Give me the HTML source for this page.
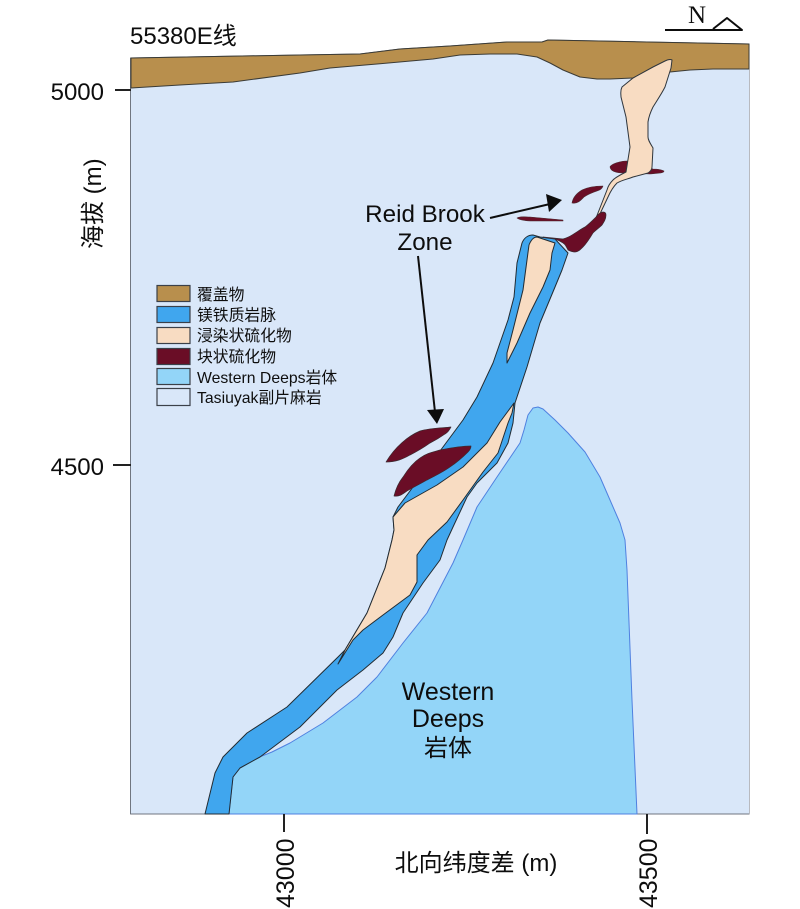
<!DOCTYPE html>
<html lang="zh">
<head>
<meta charset="utf-8">
<title>55380E</title>
<style>
html,body{margin:0;padding:0;background:#fff;width:800px;height:909px;overflow:hidden}
svg{display:block}
text{font-family:"Liberation Sans","Noto Sans CJK SC",sans-serif;fill:#111}
path{stroke-linejoin:round}
</style>
</head>
<body>
<svg width="800" height="909" viewBox="0 0 800 909" xmlns="http://www.w3.org/2000/svg">
<defs><filter id="b" x="0" y="0" width="100%" height="100%"><feGaussianBlur stdDeviation="0.3"/></filter></defs>
<g filter="url(#b)">
<!-- plot background -->
<path d="M130.500,58 L300,55 L360,54 L400,49 L450,46 L507,42 L542,42 L548,40 L749.500,44 L749.500,814 L130.500,814 Z" fill="#d9e7f9" stroke="#6f7680" stroke-width="1"/>
<!-- overburden -->
<path d="M131,58 L300,55 L360,54 L400,49 L450,46 L507,42 L542,42 L548,40 L749,44 L749,69 L713,69 L690,70 L670,72 L650,75 L633,78 L610,79 L597,79 L580,77 L563,70 L550,63 L537,57 L517,54 L490,54 L460,55 L433,59 L377,64 L330,68 L300,73 L233,82 L180,85 L131,88 Z" fill="#b88f4d" stroke="#3a3a36" stroke-width="1"/>
<!-- Western Deeps -->
<path d="M533,408 L538,407 L543,409 L555,420 L568,433 L585,452 L600,477 L610,500 L620,523 L625,540 L627,570 L632,700 L637,814 L229,814 L233,777 L240,768 L257,758 L272,752 L290,743 L323,723 L357,697 L377,677 L403,643 L427,613 L453,563 L463,540 L477,507 L497,477 L520,443 L524,430 L528,415 Z" fill="#93d5f8" stroke="#4f80e0" stroke-width="1"/>
<!-- mafic dyke -->
<path d="M522,243 C524,238 528,235 533,235 L540,237 L555,239 L568,253 L562,270 L555,287 L540,323 L527,367 L515,403 L513,423 L508,443 L497,463 L477,483 L467,497 L453,527 L447,540 L440,560 L423,583 L403,613 L393,637 L383,653 L363,670 L337,690 L300,727 L260,757 L240,768 L233,777 L229,814 L205,814 L215,773 L223,757 L230,750 L247,733 L287,707 L338,657 L345,650 L367,613 L385,568 L392,540 L394,530 L393,517 L398,507 L413,487 L443,447 L463,420 L477,397 L493,363 L508,320 L514,297 L517,263 Z" fill="#41a6ee" stroke="#222c32" stroke-width="1"/>
<!-- upper disseminated inside dyke -->
<path d="M529,245 C531,240 534,237 537,237 L555,243 L552,253 L550,270 L543,287 L530,313 L517,343 L507,363 L507,353 L513,330 L523,290 L527,260 Z" fill="#f8dcc2" stroke="#222c32" stroke-width="1"/>
<!-- lower disseminated -->
<path d="M514,403 L512,413 L508,423 L498,453 L483,472 L463,500 L447,522 L428,540 L417,555 L417,582 L410,595 L383,615 L363,630 L353,640 L338,664 L345,650 L367,613 L385,568 L392,540 L394,530 L393,517 L405,503 L437,485 L463,467 L487,443 L500,422 Z" fill="#f8dcc2" stroke="#222c32" stroke-width="1"/>
<!-- massive sulphide behind vein -->
<path d="M610,167 C611,164 620,161 627,161 L653,169 C658,169 662,170 664,171 C664,173 660,173 650,174 L627,173 C620,173 611,173 610,167 Z" fill="#6b1026" stroke="#4a2a30" stroke-width="0.600"/>
<!-- upper disseminated vein -->
<path d="M598,218 L608,197 C612,188 615,185 617,183 C622,180 628,179 633,177 L648,173 C651,171 652,169 652,167 L653,148 C650,143 648,140 648,137 L648,122 C649,115 651,111 653,107 C658,99 662,93 665,87 L671,68 L672,60 C670,59 667,60 665,61 L653,67 L633,78 L622,87 C620,91 621,94 621,97 L626,117 L630,147 L626,172 C620,175 616,177 613,180 C610,183 608,186 607,190 L596,218 Z" fill="#f8dcc2" stroke="#2f363c" stroke-width="1"/>
<path d="M572,203 C573,197 577,193 582,190 C588,187 597,186 603,186 C602,189 600,190 597,191 C591,193 587,195 584,197 C581,200 578,204 572,203 Z" fill="#6b1026" stroke="#4a2a30" stroke-width="0.600"/>
<path d="M517,218 C520,216 525,217 530,217 L563,220 L563,221 L533,221 C527,221 520,220 517,218 Z" fill="#6b1026" stroke="#4a2a30" stroke-width="0.600"/>
<path d="M596,217 C598,214 601,212 603,212 C606,212 606,214 606,215 C606,219 604,222 602,225 C599,228 596,230 593,233 C590,238 587,243 583,247 C580,250 578,252 575,252 C572,252 570,251 568,250 C566,246 565,244 563,243 C560,241 558,240 555,239 C551,238 547,238 543,237 L563,239 C566,238 569,237 572,235 C577,232 581,229 585,227 C589,224 593,220 596,217 Z" fill="#6b1026" stroke="#3a2a30" stroke-width="0.700"/>
<!-- lenses -->
<path d="M386,462 C395,447 408,436 420,431 C430,428 442,428 451,427 C449,431 447,433 445,434 C438,439 434,441 430,443 C423,448 416,452 410,455 C403,459 396,462 386,462 Z" fill="#6b1026" stroke="#3a2a30" stroke-width="0.700"/>
<path d="M394,496 C396,488 399,482 403,477 C408,469 414,462 420,458 C427,453 433,452 440,450 C450,448 462,446 471,446 C471,449 469,451 468,452 C462,458 456,463 450,467 C443,472 435,476 427,480 C420,484 414,487 407,491 C403,494 399,497 394,496 Z" fill="#6b1026" stroke="#3a2a30" stroke-width="0.700"/>
<!-- arrows -->
<line x1="490" y1="218" x2="550" y2="204" stroke="#111" stroke-width="2"/>
<path d="M546,194 L562,200 L549,212 Z" fill="#111"/>
<line x1="418" y1="256" x2="435" y2="412" stroke="#111" stroke-width="2"/>
<path d="M427,410 L444,409 L437,424 Z" fill="#111"/>
<!-- ticks -->
<g stroke="#222" stroke-width="2">
<line x1="115" y1="90" x2="131" y2="90"/>
<line x1="113" y1="465" x2="131" y2="465"/>
<line x1="284" y1="814" x2="284" y2="832"/>
<line x1="647" y1="814" x2="647" y2="834"/>
</g>
<!-- north -->
<text x="688" y="23" style="font-family:'Liberation Serif',serif;font-size:25px;fill:#111">N</text>
<path d="M665,30 L742,30 L727,18 L713,29" fill="none" stroke="#111" stroke-width="2"/>
<!-- labels -->
<text x="130" y="44" font-size="24">55380E线</text>
<text x="104" y="100" font-size="24" text-anchor="end">5000</text>
<text x="104" y="475" font-size="24" text-anchor="end">4500</text>
<text transform="translate(101,249) rotate(-90)" font-size="24">海拔 (m)</text>
<text x="476" y="871" font-size="24" text-anchor="middle">北向纬度差 (m)</text>
<text transform="translate(294,908) rotate(-90)" font-size="25">43000</text>
<text transform="translate(657,908) rotate(-90)" font-size="25">43500</text>
<text x="425" y="222" font-size="24.200" text-anchor="middle">Reid Brook</text>
<text x="425" y="250" font-size="24.200" text-anchor="middle">Zone</text>
<text x="448" y="700" font-size="25" text-anchor="middle">Western</text>
<text x="448" y="727" font-size="25" text-anchor="middle">Deeps</text>
<text x="448" y="756" font-size="24" text-anchor="middle">岩体</text>
<!-- legend -->
<g stroke="#3a4048" stroke-width="1.200">
<rect x="157" y="285.500" width="33" height="16" fill="#b88f4d"/>
<rect x="157" y="306.500" width="33" height="16" fill="#41a6ee"/>
<rect x="157" y="327.500" width="33" height="16" fill="#f8dcc2"/>
<rect x="157" y="348.500" width="33" height="16" fill="#6b1026"/>
<rect x="157" y="368.500" width="33" height="16" fill="#93d5f8"/>
<rect x="157" y="388.500" width="33" height="17" fill="#d9e7f9"/>
</g>
<g font-size="15.800">
<text x="197" y="300">覆盖物</text>
<text x="197" y="320.500">镁铁质岩脉</text>
<text x="197" y="341">浸染状硫化物</text>
<text x="197" y="362">块状硫化物</text>
<text x="197" y="383">Western Deeps岩体</text>
<text x="197" y="403">Tasiuyak副片麻岩</text>
</g>
</g>
</svg>
</body>
</html>
